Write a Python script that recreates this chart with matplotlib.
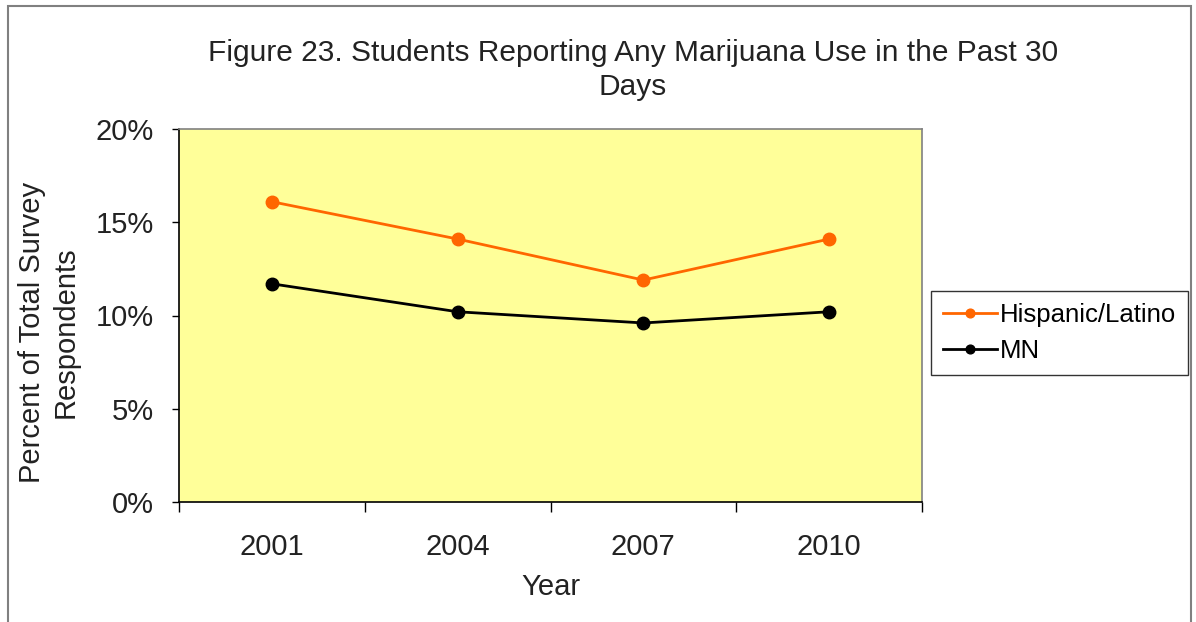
import matplotlib.pyplot as plt
from matplotlib.patches import Rectangle

plt.rcParams['font.family'] = ['Liberation Sans', 'DejaVu Sans']

years = ['2001', '2004', '2007', '2010']
hispanic = [16.1, 14.1, 11.9, 14.1]
mn = [11.7, 10.2, 9.6, 10.2]
y_ticks = [0, 5, 10, 15, 20]

fig = plt.figure(figsize=(11.96, 6.22), dpi=100)
ax = fig.add_axes([179 / 1196, 1 - 502 / 622, (922 - 179) / 1196, (502 - 129) / 622])
ax.set_facecolor('#ffff99')

x = range(len(years))
ax.plot(x, hispanic, color='#ff6600', lw=2, marker='o', ms=9, label='Hispanic/Latino')
ax.plot(x, mn, color='black', lw=2, marker='o', ms=9, label='MN')

ax.set_xlim(-0.5, len(years) - 0.5)
ax.set_ylim(0, 20)
ax.set_xticks([i - 0.5 for i in range(len(years) + 1)])
ax.set_xticklabels([])
ax.set_xticks(list(x), minor=True)
ax.set_xticklabels(years, minor=True)
ax.tick_params(axis='x', which='major', length=7, direction='out', width=1)
ax.tick_params(axis='x', which='minor', length=0, pad=22, labelsize=21, labelcolor='#222222')
ax.set_yticks(y_ticks)
ax.set_yticklabels([f'{v}%' for v in y_ticks])
ax.tick_params(axis='y', length=5, direction='out', width=1, pad=13, labelsize=21, labelcolor='#222222')

ax.spines['top'].set_color('#808080')
ax.spines['right'].set_color('#808080')
for s in ax.spines.values():
    s.set_linewidth(1.2)

ax.set_xlabel('Year', fontsize=21, color='#222222', labelpad=9)
ax.set_ylabel('Percent of Total Survey\nRespondents', fontsize=21, color='#222222',
              linespacing=1.25)
ax.yaxis.set_label_coords(-0.134, 0.455)

fig.text(633 / 1196, 1 - 70 / 622, 'Figure 23. Students Reporting Any Marijuana Use in the Past 30\nDays',
         ha='center', va='center', fontsize=21.5, color='#222222', linespacing=1.25)

leg = fig.legend(loc='upper left', bbox_to_anchor=(931 / 1196, 1 - 291 / 622),
                 fontsize=18.5, frameon=True, fancybox=False, borderpad=0.45,
                 handlelength=2.1, handletextpad=0.15, labelspacing=0.5, borderaxespad=0,
                 markerscale=0.7)
leg.get_frame().set_edgecolor('black')
leg.get_frame().set_linewidth(1)

fig.patches.append(Rectangle((8 / 1196, -0.05), (1191 - 8) / 1196, 1.05 - 6 / 622,
                             transform=fig.transFigure, fill=False, edgecolor='#808080', lw=1.5))

fig.savefig('out.png', dpi=100)
